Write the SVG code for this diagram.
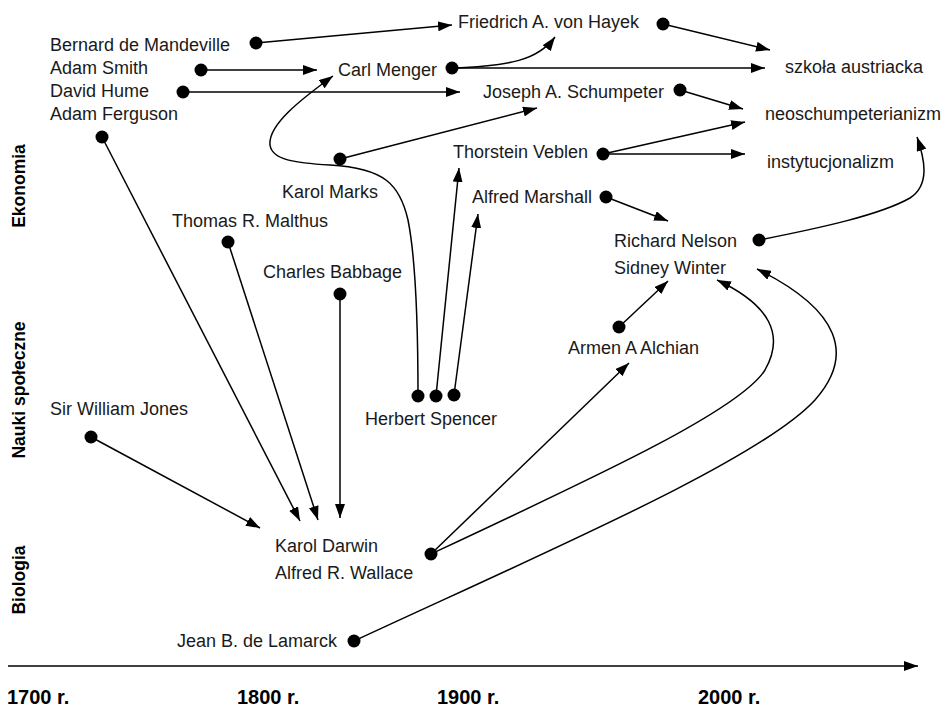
<svg xmlns="http://www.w3.org/2000/svg" width="949" height="709" viewBox="0 0 949 709">
  <defs>
    <marker id="arrow" viewBox="0 0 14 10" refX="14" refY="5" markerWidth="14" markerHeight="10" orient="auto" markerUnits="userSpaceOnUse">
      <path d="M0,0 L14,5 L0,10 z" fill="#000"/>
    </marker>
  </defs>
  <style>
    .lbl { font-family: "Liberation Sans", Arial, sans-serif; font-size: 18px; fill: #1a1a1a; }
    .field { font-family: "Liberation Sans", Arial, sans-serif; font-size: 17.5px; font-weight: bold; fill: #000; }
    .year { font-family: "Liberation Sans", Arial, sans-serif; font-size: 20px; font-weight: bold; fill: #000; }
    .edge { fill: none; stroke: #000; stroke-width: 1.5; marker-end: url(#arrow); }
    .dot { fill: #000; }
  </style>
  <rect width="949" height="709" fill="#fff"/>

  <!-- fields (rotated side labels) -->
  <g id="fields">
    <text class="field" transform="translate(25,186) rotate(-90)" text-anchor="middle">Ekonomia</text>
    <text class="field" transform="translate(25,390) rotate(-90)" text-anchor="middle">Nauki społeczne</text>
    <text class="field" transform="translate(25,580) rotate(-90)" text-anchor="middle">Biologia</text>
  </g>

  <!-- time axis -->
  <g id="axis">
    <path class="edge" d="M8,666 L918,666"/>
    <text class="year" x="7" y="704">1700 r.</text>
    <text class="year" x="237" y="704">1800 r.</text>
    <text class="year" x="437" y="704">1900 r.</text>
    <text class="year" x="698" y="704">2000 r.</text>
  </g>

  <!-- connectors -->
  <g id="connectors">
    <path class="edge" d="M256,43 L452,25"/>
    <path class="edge" d="M201,70 L317,70"/>
    <path class="edge" d="M183,92 L460,92"/>
    <path class="edge" d="M452,68 L765,68"/>
    <path class="edge" d="M452,68 C510,66 538,60 555,37"/>
    <path class="edge" d="M663,24 L770,50"/>
    <path class="edge" d="M680,90 L743,109"/>
    <path class="edge" d="M340,159 L537,108"/>
    <path class="edge" d="M603,154 L745,122"/>
    <path class="edge" d="M603,154 L745,154"/>
    <path class="edge" d="M759,240 C820,228 880,215 910,198 C930,185 925,160 917,137"/>
    <path class="edge" d="M606,197 L668,221"/>
    <path class="edge" d="M418,396 C418,330 416,260 408,220 C400,185 385,168 330,165 C295,163 272,160 270,145 C268,125 300,100 333,76"/>
    <path class="edge" d="M436,396 L459,168"/>
    <path class="edge" d="M454,395 L478,214"/>
    <path class="edge" d="M619,327 L668,281"/>
    <path class="edge" d="M102,137 L300,521"/>
    <path class="edge" d="M228,242 L318,520"/>
    <path class="edge" d="M340,294 L340,518"/>
    <path class="edge" d="M91,437 L260,528"/>
    <path class="edge" d="M431,554 L629,363"/>
    <path class="edge" d="M431,554 C600,475 740,410 765,370 C785,335 770,305 717,280"/>
    <path class="edge" d="M354,641 C550,550 760,460 815,400 C855,355 840,310 757,269"/>
  </g>

  <!-- people and schools -->
  <g id="n-hayek"><text class="lbl" x="458" y="28">Friedrich A. von Hayek</text><circle class="dot" cx="663" cy="24" r="6.5"/></g>
  <g id="n-mandeville"><text class="lbl" x="50" y="51">Bernard de Mandeville</text><circle class="dot" cx="256" cy="43" r="6.5"/></g>
  <g id="n-smith"><text class="lbl" x="50" y="74">Adam Smith</text><circle class="dot" cx="201" cy="70" r="6.5"/></g>
  <g id="n-hume"><text class="lbl" x="50" y="97">David Hume</text><circle class="dot" cx="183" cy="92" r="6.5"/></g>
  <g id="n-ferguson"><text class="lbl" x="50" y="120">Adam Ferguson</text><circle class="dot" cx="102" cy="137" r="6.5"/></g>
  <g id="n-menger"><text class="lbl" x="338" y="76">Carl Menger</text><circle class="dot" cx="452" cy="68" r="6.5"/></g>
  <g id="n-austrian"><text class="lbl" x="785" y="73">szkoła austriacka</text></g>
  <g id="n-schumpeter"><text class="lbl" x="483" y="98">Joseph A. Schumpeter</text><circle class="dot" cx="680" cy="90" r="6.5"/></g>
  <g id="n-neoschumpeter"><text class="lbl" x="765" y="120">neoschumpeterianizm</text></g>
  <g id="n-veblen"><text class="lbl" x="453" y="158">Thorstein Veblen</text><circle class="dot" cx="603" cy="154" r="6.5"/></g>
  <g id="n-institutional"><text class="lbl" x="767" y="168">instytucjonalizm</text></g>
  <g id="n-marks"><text class="lbl" x="282" y="198">Karol Marks</text><circle class="dot" cx="340" cy="159" r="6.5"/></g>
  <g id="n-marshall"><text class="lbl" x="472" y="203">Alfred Marshall</text><circle class="dot" cx="606" cy="197" r="6.5"/></g>
  <g id="n-malthus"><text class="lbl" x="172" y="227">Thomas R. Malthus</text><circle class="dot" cx="228" cy="242" r="6.5"/></g>
  <g id="n-nelson-winter"><text class="lbl" x="614" y="247">Richard Nelson</text><text class="lbl" x="614" y="274">Sidney Winter</text><circle class="dot" cx="759" cy="240" r="6.5"/></g>
  <g id="n-babbage"><text class="lbl" x="263" y="278">Charles Babbage</text><circle class="dot" cx="340" cy="294" r="6.5"/></g>
  <g id="n-alchian"><text class="lbl" x="568" y="354">Armen A Alchian</text><circle class="dot" cx="619" cy="327" r="6.5"/></g>
  <g id="n-jones"><text class="lbl" x="50" y="415">Sir William Jones</text><circle class="dot" cx="91" cy="437" r="6.5"/></g>
  <g id="n-spencer"><text class="lbl" x="365" y="425">Herbert Spencer</text><circle class="dot" cx="418" cy="396" r="6.5"/><circle class="dot" cx="436" cy="396" r="6.5"/><circle class="dot" cx="454" cy="395" r="6.5"/></g>
  <g id="n-darwin-wallace"><text class="lbl" x="275" y="552">Karol Darwin</text><text class="lbl" x="275" y="579">Alfred R. Wallace</text><circle class="dot" cx="431" cy="554" r="6.5"/></g>
  <g id="n-lamarck"><text class="lbl" x="177" y="647">Jean B. de Lamarck</text><circle class="dot" cx="354" cy="641" r="6.5"/></g>
</svg>
